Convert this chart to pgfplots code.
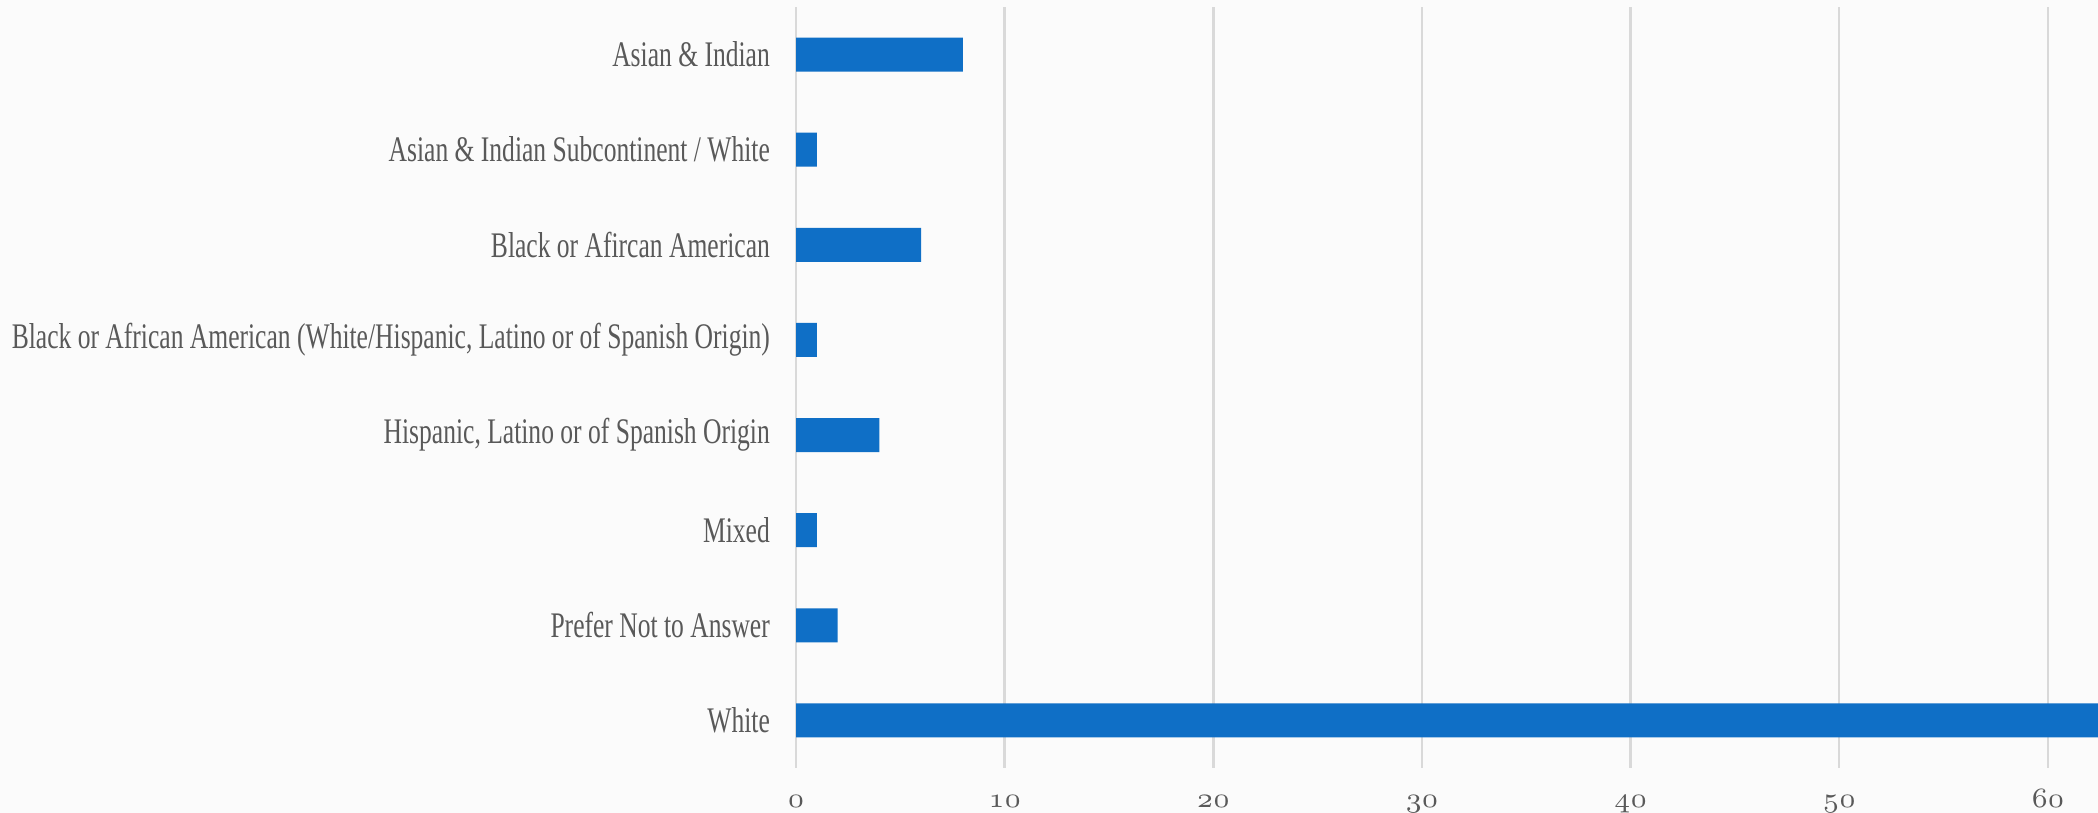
\documentclass[border=0pt]{standalone}
\usepackage{fontspec}
\setmainfont{Liberation Serif}[FakeStretch=0.71]
\usepackage{pgfplots}
\pgfplotsset{compat=1.18}
\definecolor{barblue}{HTML}{0F6FC6}
\definecolor{gridgray}{HTML}{D9D9D9}
\definecolor{txtgray}{HTML}{595959}
\definecolor{bggray}{HTML}{FBFBFB}
\begin{document}
\begin{tikzpicture}
\fill[bggray] (0,0) rectangle (524.5pt,203.25pt);
\begin{axis}[
  at={(199pt,11.25pt)}, anchor=south west,
  scale only axis, width=325.5pt, height=190.25pt,
  xbar, bar width=8.5pt,
  xmin=0, xmax=62.4,
  ymin=-0.5, ymax=7.5, y dir=reverse,
  ytick={0,...,7},
  yticklabels={Asian \& Indian\ ,Asian \& Indian Subcontinent / White,Black or Afircan American,Black or African American (White/Hispanic{,} Latino or of Spanish Origin),{Hispanic, Latino or of Spanish Origin},Mixed,Prefer Not to Answer,White},
  xtick={0,10,...,60},
  xticklabels={0,10,20,30,40,50,60},
  xticklabel style={font=\fontsize{7.5}{8}\selectfont\usefont{OML}{cmm}{m}{it}, text=txtgray, anchor=base, yshift=-9.75pt},
  xmajorgrids, major grid style={gridgray, line width=0.6pt},
  axis line style={draw=none},
  axis x line*=bottom, axis y line*=left,
  major tick length=0pt,
  tick style={draw=none},
  yticklabel style={font=\fontsize{9}{10}\selectfont, text=txtgray, anchor=east, xshift=-3pt},
  clip=true,
]
\draw[gridgray, line width=0.6pt] (axis cs:0,-0.5) -- (axis cs:0,7.5);
\addplot[fill=barblue, draw=none] coordinates {
  (8,0) (1,1) (6,2) (1,3) (4,4) (1,5) (2,6) (63,7)
};
\end{axis}
\pgfresetboundingbox
\path (0,0) rectangle (524.5pt,203.25pt);
\end{tikzpicture}
\end{document}
